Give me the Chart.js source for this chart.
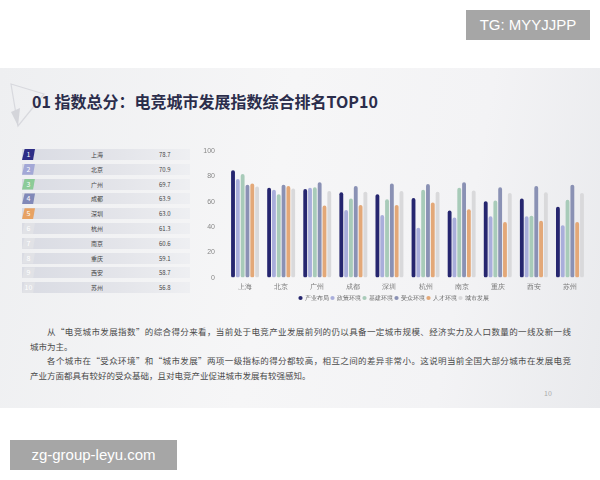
<!DOCTYPE html>
<html>
<head>
<meta charset="utf-8">
<script src="https://cdn.jsdelivr.net/npm/chart.js@4.4.1/dist/chart.umd.min.js"></script>
<style>
  body { margin: 0; width: 600px; height: 480px; background: #fff; position: relative; overflow: hidden;
         font-family: "Noto Sans CJK SC", "Noto Sans", sans-serif; }
  .slide { position: absolute; left: 0; top: 68px; width: 600px; height: 340px;
           background: linear-gradient(100deg, #eeeff1 0%, #f6f6f7 45%, #f3f3f5 75%, #e9eaed 100%); }
  .wm { position: absolute; background: #a6a6a6; color: #fff; font-family: "Liberation Sans", sans-serif;
        font-size: 15px; line-height: 30px; text-align: center; }
  .title { position: absolute; left: 32px; top: 89px; font-size: 16px; font-weight: 700; color: #2b2d4b; white-space: nowrap; }
  .row { position: absolute; left: 22px; width: 168px; height: 11px;
         background: linear-gradient(90deg, #d9dbe3 0%, #e4e5ea 60%, #eeeff2 100%); }
  .badge { position: absolute; left: 0; top: 0; width: 13px; height: 11px; color: #fff; font-size: 7px;
           line-height: 11px; text-align: center; clip-path: polygon(20% 0, 100% 0, 85% 100%, 0 100%); }
  .city { position: absolute; left: 60px; width: 30px; text-align: center; font-size: 6px; line-height: 11px; color: #444; }
  .score { position: absolute; left: 137px; font-size: 6px; line-height: 11px; color: #444; }
  .para { position: absolute; left: 30px; width: 541px; font-size: 8.5px; color: #4a4a4a; }
  .line { height: 14.7px; line-height: 14.7px; white-space: nowrap; }
  .full { text-align: justify; text-align-last: justify; }
  .indent { padding-left: 17px; }
  #wrap { position: absolute; left: 200px; top: 143px; width: 395px; height: 168px; }
</style>
</head>
<body>
<div class="slide"></div>
<svg style="position:absolute;left:8px;top:82px" width="40" height="46">
  <polygon points="3,2 36,12 10,44" fill="none" stroke="#d8d9de" stroke-width="1.2"/>
  <polygon points="3,30 10,44 12,26" fill="#d4d5da"/>
</svg>
<div class="title">01 指数总分：电竞城市发展指数综合排名TOP10</div>
<div id="table"></div>
<div id="wrap"><canvas id="chart"></canvas></div>
<div class="para" style="top:324px">
  <div class="line full indent">从“电竞城市发展指数”的综合得分来看，当前处于电竞产业发展前列的仍以具备一定城市规模、经济实力及人口数量的一线及新一线</div>
  <div class="line">城市为主。</div>
  <div class="line full indent">各个城市在“受众环境”和“城市发展”两项一级指标的得分都较高，相互之间的差异非常小。这说明当前全国大部分城市在发展电竞</div>
  <div class="line">产业方面都具有较好的受众基础，且对电竞产业促进城市发展有较强感知。</div>
</div>
<div style="position:absolute;left:544px;top:388px;font-size:7px;color:#aaa">10</div>
<div class="wm" style="left:466px;top:10px;width:124px">TG: MYYJJPP</div>
<div class="wm" style="left:10px;top:440px;width:167px">zg-group-leyu.com</div>

<script>
// 城市与各项指标得分
const cities = ['上海', '北京', '广州', '成都', '深圳', '杭州', '南京', '重庆', '西安', '苏州'];
const industry = [85, 71, 70, 67.5, 66, 63, 53, 60.5, 62.5, 56];
const policy = [78, 69.5, 71, 53.5, 49.5, 39.5, 47.5, 48.5, 48.5, 41.5];
const infra = [82, 66, 71.5, 62.5, 62, 69.5, 71, 61, 49, 61.5];
const audience = [73.5, 73.5, 75.5, 72.5, 74.5, 74, 75.5, 71.5, 72.5, 73.5];
const talent = [74.5, 72.5, 57, 57.5, 57.5, 59.5, 54, 44, 45, 44];
const urban = [72, 70.5, 68.5, 68, 68.5, 68, 69, 67, 67.5, 67];

const seriesNames = ['产业布局', '政策环境', '基建环境', '受众环境', '人才环境', '城市发展'];
const seriesColors = ['#26266f', '#a9aedb', '#a8cbb9', '#8a91b4', '#e3a878', '#d9d9db'];

// 左侧排名
const rankCities = ['上海', '北京', '广州', '成都', '深圳', '杭州', '南京', '重庆', '西安', '苏州'];
const rankScores = ['78.7', '70.9', '69.7', '63.9', '63.0', '61.3', '60.6', '59.1', '58.7', '56.8'];
const badgeColors = ['#2d2d86', '#a3a8d6', '#8ccb98', '#8189b8', '#e7a263', '#e1e2e6', '#e1e2e6', '#e1e2e6', '#e1e2e6', '#e1e2e6'];

const table = document.getElementById('table');
rankCities.forEach((c, i) => {
  const row = document.createElement('div');
  row.className = 'row';
  row.style.top = (149 + i * 14.8) + 'px';
  row.innerHTML = `<div class="badge" style="background:${badgeColors[i]}">${i + 1}</div>` +
    `<div class="city">${c}</div><div class="score">${rankScores[i]}</div>`;
  table.appendChild(row);
});

const values = [industry, policy, infra, audience, talent, urban];

new Chart(document.getElementById('chart'), {
  type: 'bar',
  data: {
    labels: cities,
    datasets: values.map((v, i) => ({
      label: seriesNames[i],
      data: v,
      backgroundColor: seriesColors[i],
      borderRadius: 2,
      borderSkipped: false,
      categoryPercentage: 0.8,
      barPercentage: 0.8,
    }))
  },
  options: {
    responsive: true,
    maintainAspectRatio: false,
    animation: false,
    layout: { padding: { top: 8, right: 7 } },
    plugins: {
      legend: {
        position: 'bottom',
        labels: { usePointStyle: true, pointStyle: 'circle', boxWidth: 3, boxHeight: 3, padding: 2,
                  font: { size: 6 }, color: '#666' }
      },
      tooltip: { enabled: false }
    },
    scales: {
      x: {
        grid: { display: false, tickLength: 3 },
        border: { display: false },
        ticks: { font: { size: 7 }, color: '#777', padding: 2 }
      },
      y: {
        min: 0,
        max: 100,
        ticks: { stepSize: 20, font: { size: 7 }, color: '#888', padding: 4 },
        grid: { display: false },
        border: { display: false },
        afterFit: (scale) => { scale.width = 27; }
      }
    }
  }
});
</script>
</body>
</html>
